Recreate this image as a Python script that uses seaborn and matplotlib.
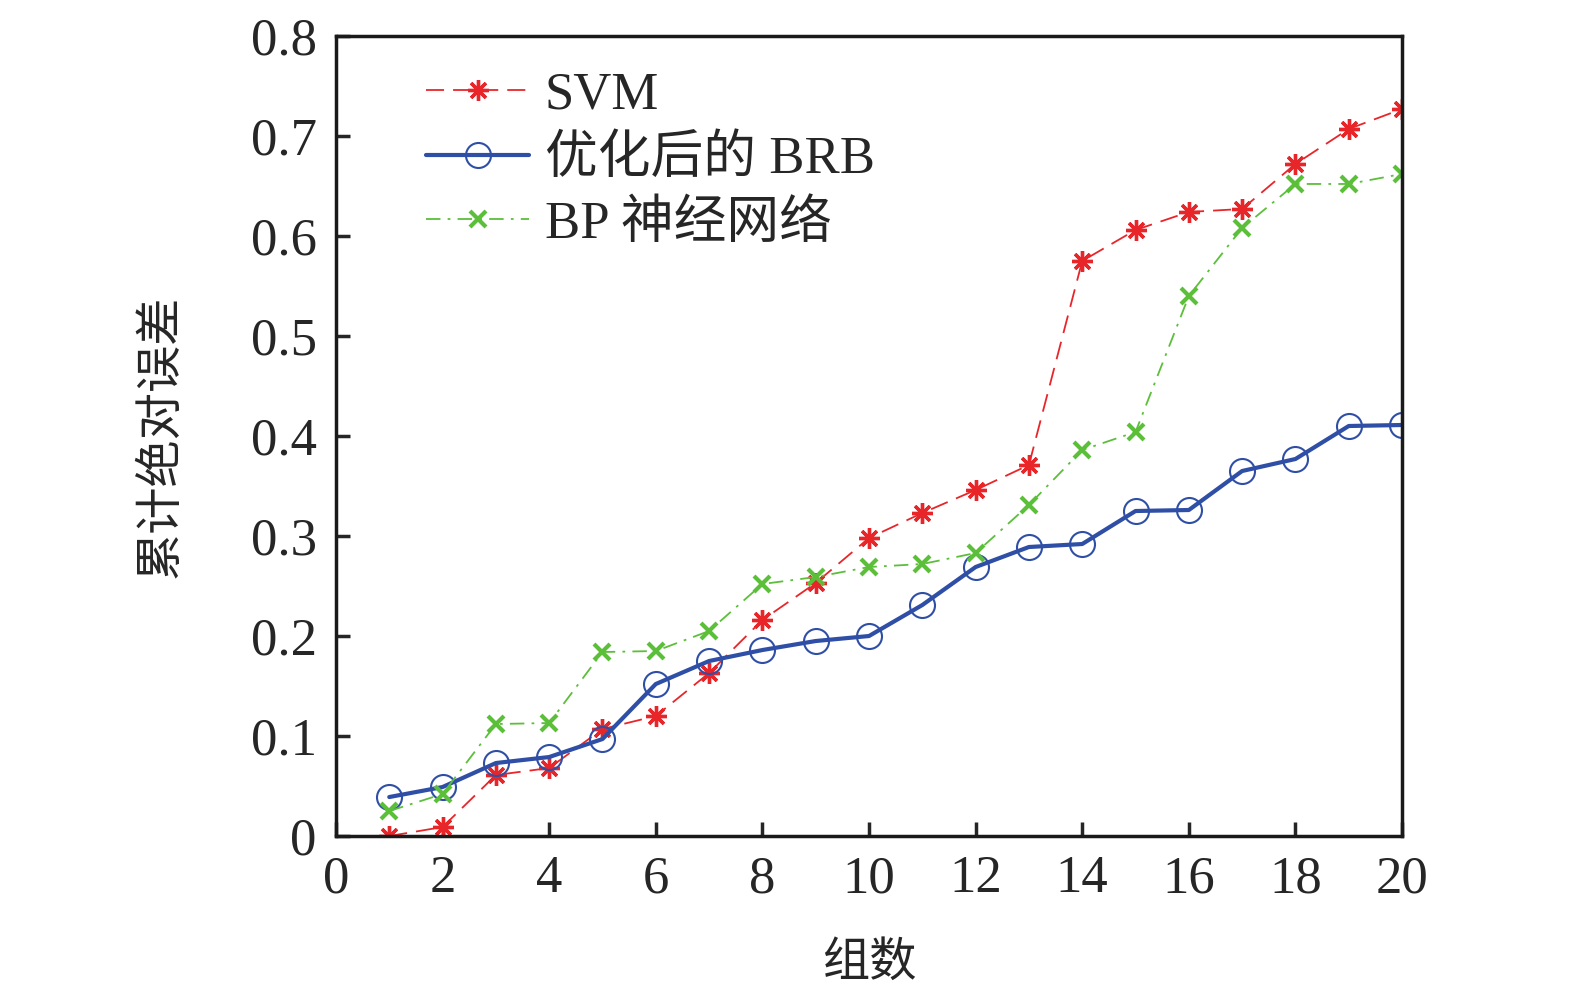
import numpy as np
import pandas as pd
import seaborn as sns
import matplotlib
matplotlib.use('Agg')
import matplotlib.pyplot as plt

groups = list(range(1, 21))
svm = [0.000, 0.009, 0.061, 0.068, 0.107, 0.120, 0.163, 0.216, 0.253, 0.298,
       0.323, 0.346, 0.371, 0.575, 0.606, 0.624, 0.627, 0.672, 0.707, 0.727]
brb = [0.039, 0.049, 0.073, 0.079, 0.097, 0.152, 0.175, 0.186, 0.195, 0.200,
       0.231, 0.269, 0.289, 0.292, 0.325, 0.326, 0.365, 0.377, 0.410, 0.411]
bp = [0.025, 0.042, 0.112, 0.113, 0.184, 0.185, 0.205, 0.252, 0.259, 0.269,
      0.272, 0.283, 0.331, 0.386, 0.404, 0.540, 0.608, 0.652, 0.652, 0.662]

sns.set_style('white')
plt.rcParams['font.family'] = ['Liberation Serif', 'Noto Sans CJK SC']
plt.rcParams['axes.unicode_minus'] = False

fig = plt.figure(figsize=(15.75, 9.96), dpi=100)
ax = fig.add_axes([0.2133, 0.1606, 0.6769, 0.8033])

sns.lineplot(x=groups, y=svm, ax=ax, color='#e8262a', lw=1.3, dashes=False,
             linestyle=(0, (10, 5)), marker=(8, 2, 0), markersize=15,
             markeredgewidth=2.4, markeredgecolor='#e8262a', label='SVM')
sns.lineplot(x=groups, y=brb, ax=ax, color='#2f4fa6', lw=3, marker='o',
             markersize=18, markerfacecolor='none', markeredgewidth=1.5,
             markeredgecolor='#2f4fa6', label='优化后的 BRB')
sns.lineplot(x=groups, y=bp, ax=ax, color='#5cbf3a', lw=1.3,
             linestyle=(0, (8, 4, 1.5, 4)), marker='x', markersize=12,
             markeredgewidth=3, markeredgecolor='#5cbf3a', label='BP 神经网络')

ax.set_xlim(0, 20)
ax.set_ylim(0, 0.8)
ax.set_xticks(np.arange(0, 21, 2))
ax.set_yticks(np.arange(0, 0.81, 0.1))
ax.set_yticklabels(['0'] + [f'{v:.1f}' for v in np.arange(0.1, 0.81, 0.1)])
ax.tick_params(direction='in', length=10, width=2.5, labelsize=38, pad=14,
               bottom=True, left=True, top=False, right=False)
for s in ax.spines.values():
    s.set_linewidth(2.5)
    s.set_color('#1a1a1a')

ax.set_xlabel('组数', fontsize=34, labelpad=28)
ax.set_ylabel('累计绝对误差', fontsize=34, labelpad=48)

ax.legend(loc='upper left', bbox_to_anchor=(0.04, 1.015), frameon=False,
          fontsize=38, handlelength=1.95, handletextpad=0.3, labelspacing=0.3,
          numpoints=1)

fig.savefig('out.png', dpi=100, facecolor='white')
